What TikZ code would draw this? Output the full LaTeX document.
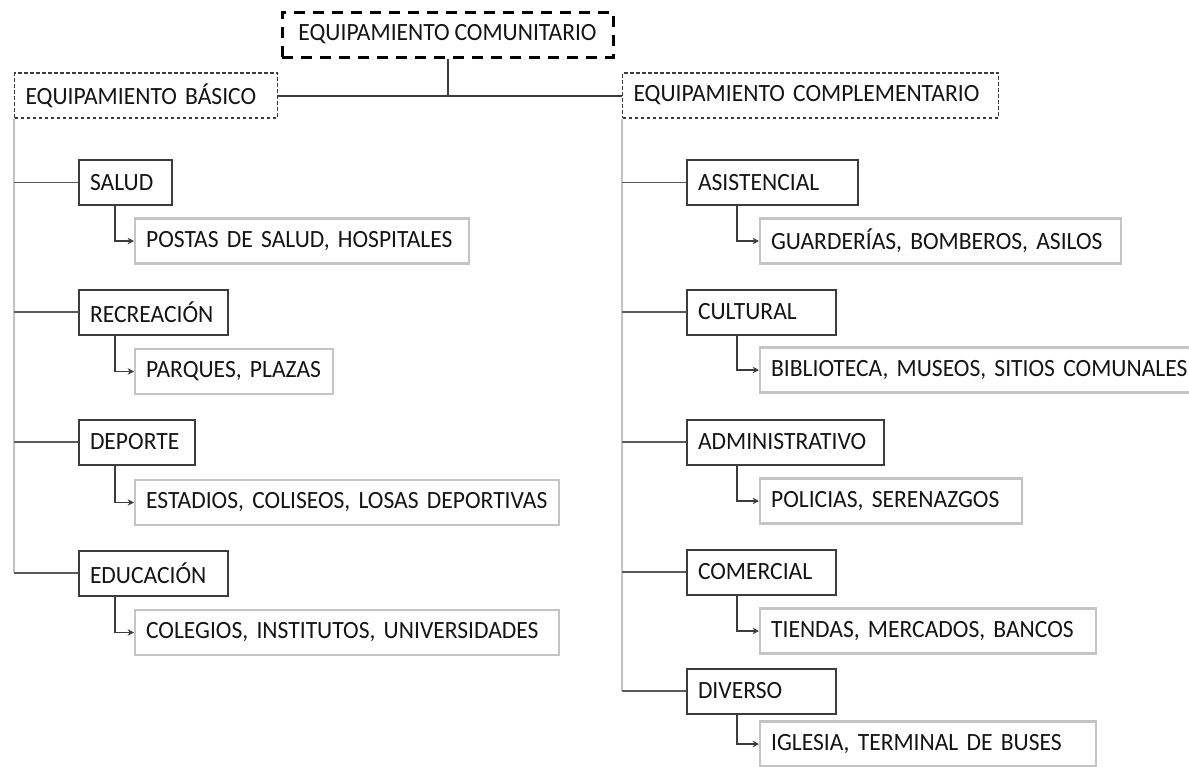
\documentclass[tikz,border=0pt]{standalone}
\usepackage{fontspec}
\setmainfont{Carlito}[FakeStretch=0.95, WordSpace=0.9]
\usetikzlibrary{arrows.meta}
\definecolor{txt}{HTML}{141414}
\definecolor{dark}{HTML}{3C3C3C}
\definecolor{light}{HTML}{C4C4C4}
\definecolor{mid}{HTML}{5A5A5A}
\tikzset{
  base/.style={rectangle, inner ysep=0pt, inner xsep=5.5pt, minimum height=22.5pt, align=left, anchor=west, text=txt, font=\fontsize{12.4}{14}\selectfont,
    execute at begin node={\hbox\bgroup}, execute at end node={\egroup}},
  topbox/.style={rectangle, draw=black, line width=1.5pt, dash pattern=on 5.5pt off 4pt, minimum width=165.5pt, minimum height=22.5pt, inner sep=0pt, text=txt, font=\fontsize{12.4}{14}\selectfont},
  lvlbox/.style={base, draw=dark, line width=0.6pt, dash pattern=on 1.8pt off 1.2pt},
  mainbox/.style={base, draw=dark, line width=1pt},
  subbox/.style={base, draw=light, line width=1.1pt},
  topline/.style={draw=dark, line width=1pt},
  branch/.style={draw=mid, line width=0.9pt},
  vline/.style={draw=light, line width=0.8pt},
  conn/.style={draw=dark, line width=0.8pt, -{Stealth[length=3.2pt,width=3.2pt]}}
}
\begin{document}
\begin{tikzpicture}[x=0.5pt,y=-0.5pt]
\useasboundingbox (0,0) rectangle (1189,766);
% top
\node[topbox] (top) at (447.5,34.5) {EQUIPAMIENTO COMUNITARIO};
\node[lvlbox, text width=120.5pt] (basico) at (14,95.5) {EQUIPAMIENTO BÁSICO};
\node[lvlbox, text width=177pt] (compl) at (622,95.5) {EQUIPAMIENTO COMPLEMENTARIO};
% left column
\node[mainbox, text width=35.5pt] (salud) at (78,182.5) {SALUD};
\node[subbox, text width=156pt] (postas) at (134,241) {POSTAS DE SALUD, HOSPITALES};
\node[mainbox, text width=63.5pt] (recre) at (78,312) {RECREACIÓN};
\node[subbox, text width=88pt] (parques) at (134,371.5) {PARQUES, PLAZAS};
\node[mainbox, text width=47pt] (deporte) at (78,442) {DEPORTE};
\node[subbox, text width=201pt] (estadios) at (134,502.5) {ESTADIOS, COLISEOS, LOSAS DEPORTIVAS};
\node[mainbox, text width=63.5pt] (educ) at (78,573) {EDUCACIÓN};
\node[subbox, text width=201pt] (colegios) at (134,632.5) {COLEGIOS, INSTITUTOS, UNIVERSIDADES};
% right column
\node[mainbox, text width=74.5pt] (asist) at (686,182.5) {ASISTENCIAL};
\node[subbox, text width=169.5pt] (guard) at (759,241) {GUARDERÍAS, BOMBEROS, ASILOS};
\node[mainbox, text width=63.5pt] (cult) at (686,312) {CULTURAL};
\node[subbox, text width=209.5pt] (biblio) at (759,370) {BIBLIOTECA, MUSEOS, SITIOS COMUNALES};
\node[mainbox, text width=87.5pt] (admin) at (686,442) {ADMINISTRATIVO};
\node[subbox, text width=120pt] (polic) at (759,501) {POLICIAS, SERENAZGOS};
\node[mainbox, text width=63.5pt] (comer) at (686,572) {COMERCIAL};
\node[subbox, text width=157pt] (tiendas) at (759,631) {TIENDAS, MERCADOS, BANCOS};
\node[mainbox, text width=63.5pt] (divers) at (686,691) {DIVERSO};
\node[subbox, text width=157pt] (iglesia) at (759,744) {IGLESIA, TERMINAL DE BUSES};
% top connectors
\draw[topline] (top.south) -- (top.south |- basico.east);
\draw[topline] (basico.east) -- (compl.west);
% vertical spines
\draw[vline] (basico.south west) -- (basico.south west |- educ.west);
\draw[vline] (compl.south west) -- (compl.south west |- divers.west);
% branches
\foreach \n in {salud,recre,deporte,educ}
  \draw[branch] (\n.west -| basico.south west) -- (\n.west);
\foreach \n in {asist,cult,admin,comer,divers}
  \draw[branch] (\n.west -| compl.south west) -- (\n.west);
% main -> sub
\draw[conn] ([xshift=18.5pt]salud.south west) |- (postas.west);
\draw[conn] ([xshift=18.5pt]recre.south west) |- (parques.west);
\draw[conn] ([xshift=18.5pt]deporte.south west) |- (estadios.west);
\draw[conn] ([xshift=18.5pt]educ.south west) |- (colegios.west);
\draw[conn] ([xshift=25.5pt]asist.south west) |- (guard.west);
\draw[conn] ([xshift=25.5pt]cult.south west) |- (biblio.west);
\draw[conn] ([xshift=25.5pt]admin.south west) |- (polic.west);
\draw[conn] ([xshift=25.5pt]comer.south west) |- (tiendas.west);
\draw[conn] ([xshift=25.5pt]divers.south west) |- (iglesia.west);
\end{tikzpicture}
\end{document}
